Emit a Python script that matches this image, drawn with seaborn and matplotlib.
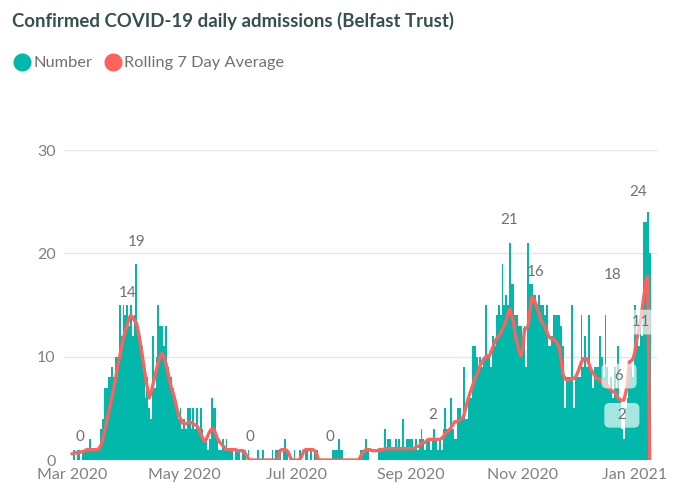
import numpy as np
import pandas as pd
import matplotlib
matplotlib.use("Agg")
import matplotlib.pyplot as plt
import matplotlib.dates as mdates
from matplotlib.lines import Line2D
import seaborn as sns

# ---------------- data ----------------
start_date = "2020-03-01"

number_spring = [0, 1, 0, 1, 1, 0, 1,
                 1, 1, 1, 2, 1, 1, 1, 1, 1,
                 3, 4, 7, 7, 8, 8, 9, 8, 10, 10,
                 15, 12, 15, 14, 15, 13, 15, 12, 14, 19,
                 13, 12, 11, 9, 6, 8, 5, 4, 12, 7,
                 10, 15, 13, 13, 11, 13, 9, 8, 8, 7,
                 6, 5, 4, 5, 3, 4, 3, 5, 5, 3,
                 5, 3, 5, 3, 5, 3, 2, 2, 1, 2,
                 6, 5, 5, 2, 1, 1, 2, 1, 2, 1,
                 1, 1, 0, 1, 1, 1, 0, 1, 1, 0, 1]
number_summer = [0, 0, 0, 0, 1, 0, 0, 1, 0, 0,
                 0, 0, 1, 0, 1, 1, 1, 0, 1, 2,
                 1, 0, 0, 0, 1, 0, 0, 1, 0, 0,
                 1, 1, 0, 1, 0, 1, 1, 0, 0, 0,
                 0, 0, 0, 0, 0, 1, 1, 1, 2, 1,
                 1, 0, 0, 0, 0, 0, 0, 0, 0, 0,
                 1, 1, 1, 2, 1, 0, 0, 0, 0, 0,
                 1, 1, 1, 3, 1, 2, 2, 1, 1, 2,
                 1, 2, 1, 4, 1, 2, 2, 2]
number_autumn = [2, 1, 2, 1, 2, 3, 2, 1, 2, 2,
                 1, 2, 3, 2, 1, 2, 1, 3, 5, 3,
                 3, 6, 3, 2, 2, 5, 5, 4, 9, 4,
                 4, 6, 6, 11, 11, 10, 9, 10, 9, 10,
                 15, 10, 10, 9, 12, 11, 14, 15, 14, 19,
                 15, 16, 15, 21, 17, 17, 14, 14, 13, 13,
                 12, 13, 9, 21, 17, 17, 16, 16, 15, 16,
                 15, 15, 14, 15, 11, 11, 12, 14, 14, 14,
                 14, 13, 11, 5, 8, 8, 8, 15, 5, 8,
                 8, 8, 14, 9, 12, 9, 14, 9, 7, 9,
                 9, 9, 12, 10, 8, 14, 9, 7, 8, 6,
                 9, 7, 11, 6, 3, 2, 5, 6, 9, 9,
                 8, 15, 12, 11, 14, 12, 23, 23, 24, 20]

avg_spring = [0.6, 0.6, 0.7, 0.7, 0.7, 0.8, 0.8, 0.9, 1, 1, 1, 1, 1, 1, 1, 1.2,
              1.5, 2.2, 3, 3.8, 4.6, 5.4, 6.3, 7.2, 8.2, 9.2,
              10, 11, 11.8, 12.5, 13, 13.7, 14, 13.8, 13.5, 13.3,
              12.5, 11.5, 10.4, 9.2, 8, 7, 6, 6.5, 7.3, 8,
              8.8, 9.5, 10, 10.3, 10, 9.4, 8.6, 7.8, 7, 6.5,
              5.8, 5, 4.4, 4, 3.6, 3.5, 3.5, 3.6, 3.7, 3.6,
              3.5, 3.4, 3.3, 3, 2.6, 2.1, 1.8, 2, 2.4, 2.8,
              3, 3, 2.6, 2.1, 1.8, 1.6, 1.4, 1.2, 1, 1,
              1, 1, 1, 1, 0.9, 0.9, 0.9, 0.9, 0.7, 0.4, 0.1]
avg_summer = [0, 0, 0, 0, 0, 0, 0, 0, 0, 0, 0, 0, 0, 0, 0, 0,
              0.9, 1, 1, 1, 0.9, 0.6,
              0.1, 0, 0, 0, 0, 0.1, 0.4,
              0.9, 1, 1, 1, 1, 1, 0.9, 0.6,
              0, 0, 0, 0, 0, 0, 0, 0, 0, 0, 0, 0, 0, 0, 0, 0, 0, 0, 0, 0, 0, 0, 0,
              0.4, 0.7, 0.9, 1, 1, 1, 0.9, 0.9, 0.9, 0.9,
              1, 1, 1, 1.1, 1.1, 1.1, 1.1, 1.1, 1.1, 1.1,
              1.1, 1.1, 1.1, 1.1, 1.1, 1.1, 1.1, 1.1]
avg_autumn = [1.1, 1.1, 1.3, 1.3, 1.4, 1.6, 1.7, 1.7,
              1.9, 2, 2, 2, 2, 2, 2, 2, 2.1, 2.3, 2.6, 2.7,
              2.9, 3.1, 3.4, 3.7, 3.7, 3.8, 3.9, 4, 4.3, 5,
              5.7, 6.3, 6.8, 7.3, 7.9, 8.2, 8.7, 9.2, 9.5, 9.8,
              10, 10.1, 10.1, 10.6, 11, 11.5, 11.8, 12, 12.3, 12.7,
              13, 13.5, 14.2, 14.6, 14, 13.4, 12, 11.3, 10.6, 10.1,
              10.8, 12.7, 12.7, 13, 14.5, 15.8, 15.6, 15.2, 14.6, 14.2,
              13.4, 13.2, 13, 12.5, 12, 11.8, 11.7, 11.7, 11.5, 11.2,
              10.8, 9.5, 8.2, 7.9, 7.7, 7.7, 7.8, 7.9, 7.9, 8.1,
              8.5, 9, 9.5, 9.8, 9.8, 9.8, 9.3, 8.8, 8.5, 8.2,
              7.9, 7.9, 7.7, 7.6, 7.5, 7.4, 7.2, 7, 6.8, 6.6,
              6.6, 6.3, 6, 5.8, 5.8, 5.8, 6.5, 7.5, 9.5, 9.6,
              9.8, 10.5, 11.7, 12.5, 13.4, 14.7, 16, 17.3, 17.8, 0]

number = number_spring + number_summer + number_autumn
rolling = avg_spring + avg_summer + avg_autumn
dates = pd.date_range(start_date, periods=len(number), freq="D")

tick_dates = pd.to_datetime(["2020-03-01", "2020-05-01", "2020-07-01",
                             "2020-09-01", "2020-11-01", "2021-01-01"])
tick_labels = ["Mar 2020", "May 2020", "Jul 2020", "Sep 2020", "Nov 2020", "Jan 2021"]
y_ticks = [0, 10, 20, 30]

# data labels: (series, date index, text, dx px, dy px (up), boxed)
labels = [("avg", 4, "0", 1, 16, False),
          ("avg", 31, "14", -1, 25, False),
          ("num", 35, "19", 0, 22, False),
          ("avg", 97, "0", 0, 23, False),
          ("avg", 140, "0", 0, 23, False),
          ("avg", 196, "2", 0, 24, False),
          ("num", 238, "21", -1, 23, False),
          ("avg", 250, "16", 4, 25, False),
          ("avg", 313, "18", -35, 1, False),
          ("num", 313, "24", -10, 20, False),
          ("avg", 307, "11", 4, 17, True),
          ("avg", 299, "6", -3, 24, True),
          ("num", 300, "2", -2, 24, True)]

# ---------------- style ----------------
TEAL = "#01B8AA"
RED = "#FD625E"
GREY = "#808080"
FONT = ["Lato", "DejaVu Sans"]

sns.set_theme(style="white")
plt.rcParams["font.family"] = FONT

df = pd.DataFrame({"date": dates, "x": mdates.date2num(dates),
                   "Number": number, "Rolling": rolling})

fig = plt.figure(figsize=(6.77, 5.0), dpi=100)
ax = fig.add_axes([64 / 677, 0.08, (657 - 64) / 677, 0.62])

sns.barplot(data=df, x="x", y="Number", native_scale=True, color=TEAL,
            width=1.0, errorbar=None, saturation=1, linewidth=0,
            edgecolor=TEAL, ax=ax, zorder=2)
sns.lineplot(data=df, x="x", y="Rolling", color=RED, linewidth=2.4,
             ax=ax, zorder=3)

x0 = mdates.date2num(pd.Timestamp(start_date))
ax.set_xlim(x0 - 4.3, x0 + 318)
ax.set_ylim(0, 30)
ax.set_yticks(y_ticks)
ax.set_yticklabels([str(v) for v in y_ticks])
ax.set_xticks(mdates.date2num(tick_dates))
ax.set_xticklabels(tick_labels)
ax.tick_params(axis="both", length=0, labelsize=11.5, labelcolor=GREY)
ax.tick_params(axis="y", pad=6)
ax.tick_params(axis="x", pad=6)
ax.set_xlabel("")
ax.set_ylabel("")
for s in ax.spines.values():
    s.set_visible(False)
ax.yaxis.grid(True, color="#e6e6e6", linewidth=1, zorder=0)
ax.set_axisbelow(True)

# data labels
for series, idx, text, dx, dy, boxed in labels:
    yv = number[idx] if series == "num" else rolling[idx]
    kw = {}
    if boxed:
        kw["bbox"] = dict(boxstyle="round,pad=0.35", fc="white", ec="none", alpha=0.65)
        text = "  " + text + "  "
    ax.annotate(text, xy=(df["x"].iloc[idx], yv), xytext=(dx, dy),
                textcoords="offset pixels", ha="center", va="center",
                fontsize=11, color="#707070", zorder=5, **kw)

# title and legend
fig.text(12 / 677, 1 - 21 / 500, "Confirmed COVID-19 daily admissions (Belfast Trust)",
         fontsize=13.4, fontweight="bold", color="#34504f", va="center", ha="left")
handles = [Line2D([], [], marker="o", linestyle="", markersize=12, color=TEAL),
           Line2D([], [], marker="o", linestyle="", markersize=12, color=RED)]
fig.legend(handles, ["Number", "Rolling 7 Day Average"], loc="center left",
           bbox_to_anchor=(-3 / 677, 1 - 63 / 500), ncol=2, frameon=False,
           handletextpad=0.05, columnspacing=0.55, handlelength=1.3,
           fontsize=11.8, labelcolor="#707070")

fig.savefig("out.png", dpi=100)
